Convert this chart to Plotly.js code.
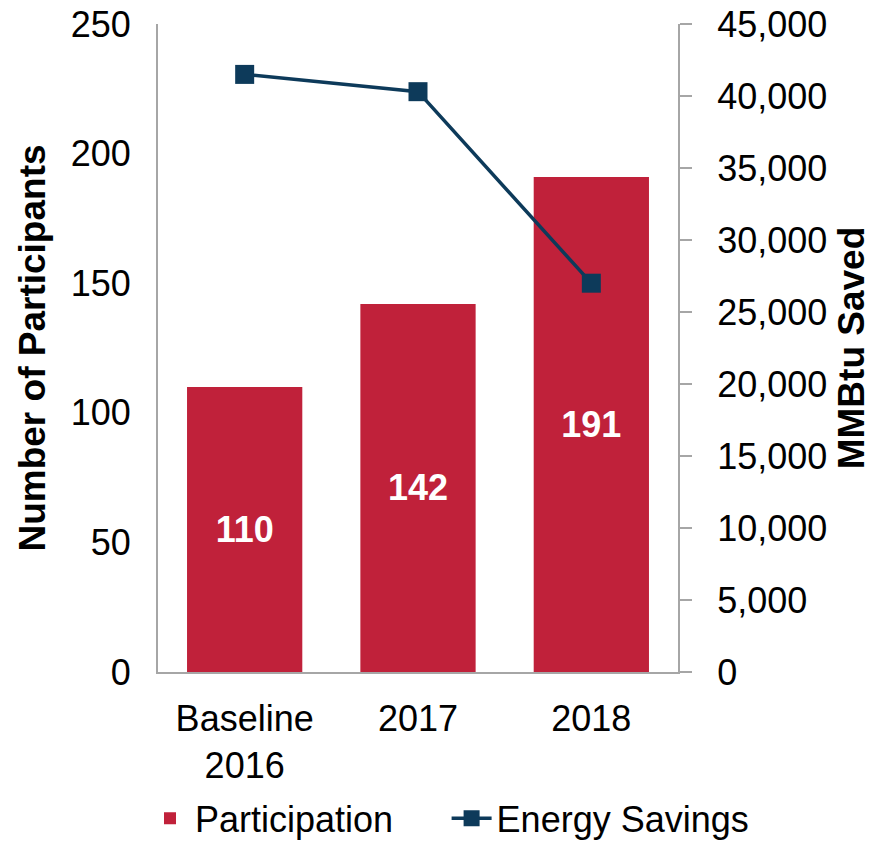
<!DOCTYPE html>
<html>
<head>
<meta charset="utf-8">
<script src="https://cdn.plot.ly/plotly-3.0.1.min.js"></script>
<style>html,body{margin:0;padding:0;background:#fff;}#chart{width:885px;height:846px;}</style>
</head>
<body>
<div id="chart"></div>
<script>
const categories = ["Baseline<br>2016", "2017", "2018"];
const participation = [110, 142, 191];
const energySavings = [41500, 40300, 27000];
const leftTicks = [0, 50, 100, 150, 200, 250];
const rightTicks = [0, 5000, 10000, 15000, 20000, 25000, 30000, 35000, 40000, 45000];

const FONT = '"Liberation Sans", Arial, sans-serif';
const RED = '#C0213A';
const NAVY = '#0D3A5A';
const GRAY = '#A6A6A6';

const traces = [
  {
    type: 'bar',
    name: 'Participation',
    legend: 'legend',
    x: categories,
    y: participation,
    marker: {color: RED},
    text: participation.map(String),
    textposition: 'inside',
    insidetextanchor: 'middle',
    textangle: 0,
    textfont: {family: FONT, size: 36, color: '#ffffff', weight: 'bold'},
    hoverinfo: 'x+y'
  },
  {
    type: 'scatter',
    mode: 'lines+markers',
    name: 'Energy Savings',
    legend: 'legend2',
    x: categories,
    y: energySavings,
    yaxis: 'y2',
    line: {color: NAVY, width: 3.5},
    marker: {symbol: 'square', size: 19, color: NAVY}
  }
];

const legendFont = {family: FONT, size: 36, color: '#000000'};

const layout = {
  width: 885,
  height: 846,
  margin: {l: 158, r: 207, t: 24, b: 174, autoexpand: false},
  paper_bgcolor: '#ffffff',
  plot_bgcolor: '#ffffff',
  font: {family: FONT, size: 36, color: '#000000'},
  bargap: 0.335,
  showlegend: true,
  legend: {
    orientation: 'h',
    x: -0.025,
    xanchor: 'left',
    y: -0.226,
    yanchor: 'middle',
    font: legendFont,
    itemwidth: 40,
    bgcolor: 'rgba(0,0,0,0)'
  },
  legend2: {
    orientation: 'h',
    x: 0.555,
    xanchor: 'left',
    y: -0.226,
    yanchor: 'middle',
    font: legendFont,
    itemwidth: 40,
    bgcolor: 'rgba(0,0,0,0)'
  },
  xaxis: {
    type: 'category',
    range: [-0.5, 2.5],
    showline: true,
    linecolor: GRAY,
    linewidth: 2,
    ticks: '',
    showgrid: false,
    tickfont: {family: FONT, size: 36},
    ticklabelstandoff: 14
  },
  yaxis: {
    range: [0, 250],
    tickvals: leftTicks,
    showline: true,
    linecolor: GRAY,
    linewidth: 2,
    ticks: '',
    showgrid: false,
    zeroline: false,
    tickfont: {family: FONT, size: 36},
    ticklabelstandoff: 18,
    title: {text: 'Number of Participants', font: {family: FONT, size: 37, weight: 'bold'}, standoff: 14}
  },
  yaxis2: {
    overlaying: 'y',
    side: 'right',
    range: [0, 45000],
    tickvals: rightTicks,
    tickformat: ',d',
    showline: true,
    linecolor: GRAY,
    linewidth: 2,
    ticks: 'outside',
    ticklen: 12,
    tickwidth: 2,
    tickcolor: GRAY,
    showgrid: false,
    zeroline: false,
    tickfont: {family: FONT, size: 36},
    ticklabelstandoff: 18,
    title: {text: 'MMBtu Saved', font: {family: FONT, size: 37, weight: 'bold'}, standoff: 12}
  }
};

Plotly.newPlot('chart', traces, layout, {displayModeBar: false, staticPlot: true});
</script>
</body>
</html>
